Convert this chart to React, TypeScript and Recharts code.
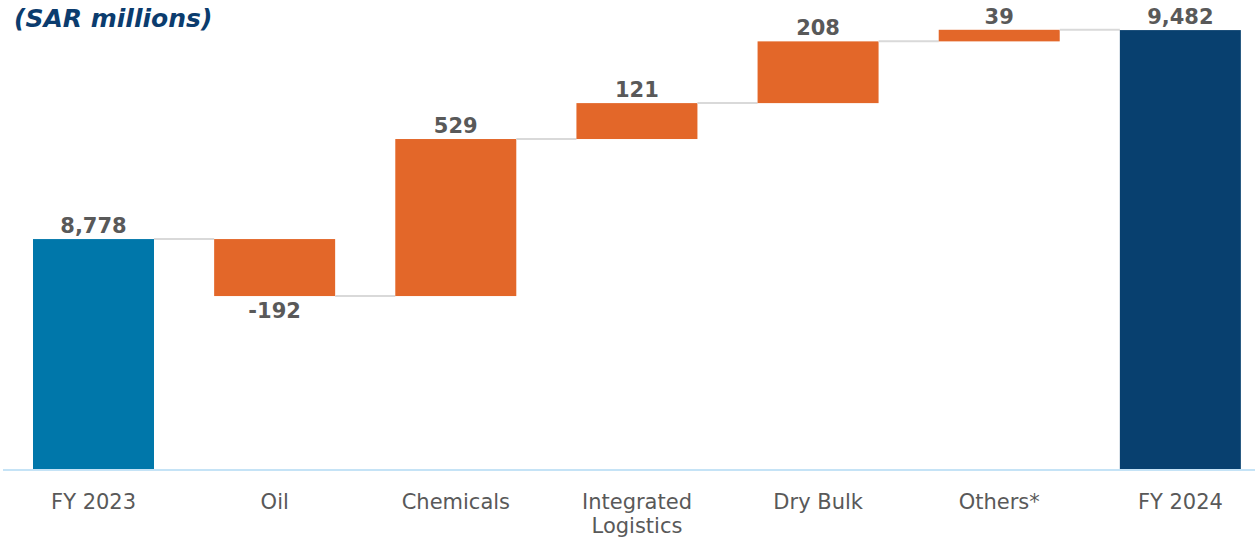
import React from "react";
import { Bar, BarChart, XAxis, YAxis } from "recharts";

const categories = ["FY 2023", "Oil", "Chemicals", "Integrated Logistics", "Dry Bulk", "Others*", "FY 2024"];
const amounts = [8778, -192, 529, 121, 208, 39, 9482];
const isTotal = [true, false, false, false, false, false, true];
const yDomain = [8000, 9580];

const CHART_W = 1271;
const CHART_H = 540;
const MARGIN = { top: 1, right: 0, left: 3, bottom: 0 };
const BAND = (CHART_W - MARGIN.left - MARGIN.right) / categories.length;

const START_BLUE = "#0077AA";
const END_NAVY = "#08406F";
const ORANGE = "#E36729";
const TEXT_GREY = "#595959";
const FONT = "'DejaVu Sans', sans-serif";

let running = 0;
const data = categories.map((name, i) => {
  const amount = amounts[i];
  if (isTotal[i]) {
    running = amount;
    return { name, amount, total: true, range: [yDomain[0], amount] };
  }
  const start = running;
  running += amount;
  return { name, amount, total: false, range: [Math.min(start, running), Math.max(start, running)] };
});

function WaterfallShape(props: any) {
  const { x, y, width, height, payload, index } = props;
  const fill = payload.total ? (index === 0 ? START_BLUE : END_NAVY) : ORANGE;
  const bottom = y + height;
  const endY = payload.amount < 0 ? bottom : y;
  const labelY = payload.amount < 0 ? bottom + 22 : y - 6;
  return (
    <g>
      <rect x={x} y={y} width={width} height={height} fill={fill} />
      {index < data.length - 1 && (
        <line x1={x + width} x2={x + BAND} y1={endY} y2={endY} stroke="#D9D9D9" strokeWidth={2} />
      )}
      <text x={x + width / 2} y={labelY} textAnchor="middle" fill={TEXT_GREY} fontSize={21} fontWeight="bold" fontFamily={FONT}>
        {payload.amount.toLocaleString("en-US")}
      </text>
    </g>
  );
}

function CategoryTick({ x, y, payload }: any) {
  const lines: string[] = payload.value.length > 12 ? payload.value.split(" ") : [payload.value];
  return (
    <text x={x} y={y} textAnchor="middle" fill={TEXT_GREY} fontSize={21} fontFamily={FONT}>
      {lines.map((line, i) => (
        <tspan key={i} x={x} dy={i === 0 ? 31 : 24}>
          {line}
        </tspan>
      ))}
    </text>
  );
}

export default function App() {
  return (
    <div style={{ position: "absolute", left: 0, top: 0, width: 1255, height: 540, overflow: "hidden", background: "#fff" }}>
      <div
        style={{
          position: "absolute",
          left: 14,
          top: 4,
          fontFamily: FONT,
          fontSize: 25,
          fontWeight: "bold",
          fontStyle: "italic",
          color: "#0B3C6E",
          lineHeight: "normal",
          zIndex: 1
        }}
      >
        (SAR millions)
      </div>
      <BarChart width={CHART_W} height={CHART_H} data={data} margin={MARGIN}>
        <YAxis hide domain={yDomain} />
        <XAxis
          dataKey="name"
          interval={0}
          height={70}
          tickLine={false}
          axisLine={{ stroke: "#C5E3F6", strokeWidth: 2 }}
          tick={<CategoryTick />}
        />
        <Bar dataKey="range" barSize={121} isAnimationActive={false} shape={(p: any) => <WaterfallShape {...p} />} />
      </BarChart>
    </div>
  );
}
